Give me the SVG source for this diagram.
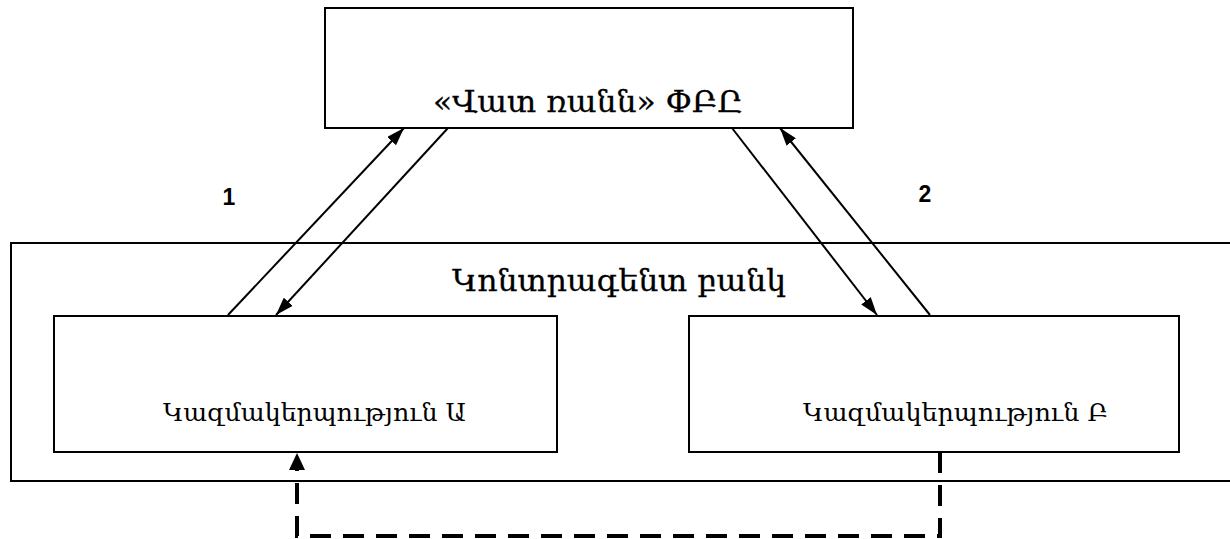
<svg xmlns="http://www.w3.org/2000/svg" width="1230" height="539" viewBox="0 0 1230 539">
<style>
.box{fill:#fff;stroke:#000;stroke-width:2}
.arm{font-family:"DejaVu Serif","Noto Sans",serif;fill:#000}
.big{font-size:30px;stroke:#000;stroke-width:0.3}
.small{font-size:24px}
.num{font-family:"Liberation Sans",Arial,sans-serif;font-weight:bold;font-size:23px;fill:#000}
.ln{stroke:#000;stroke-width:2;fill:none}
.dash{stroke:#000;stroke-width:4;fill:none;stroke-dasharray:21 12}
</style>
<defs>
<marker id="ah" viewBox="0 0 18 12" markerWidth="18" markerHeight="12" refX="18" refY="6" orient="auto" markerUnits="userSpaceOnUse">
<path d="M0,0 L18,6 L0,12 z" fill="#000"/>
</marker>
</defs>
<rect width="1230" height="539" fill="#fff"/>
<g id="bank">
<rect class="box" x="11" y="243" width="1230" height="238"/>
<text class="arm big" x="452" y="291" textLength="334" lengthAdjust="spacingAndGlyphs">Կոնտրագենտ բանկ</text>
</g>
<g id="top">
<rect class="box" x="325" y="8" width="528" height="120"/>
<text class="arm big" x="433" y="112" textLength="310" lengthAdjust="spacingAndGlyphs">«Վատ ռանն» ՓԲԸ</text>
</g>
<g id="orgA">
<rect class="box" x="54" y="316" width="503" height="136"/>
<text class="arm small" x="163" y="421" textLength="303" lengthAdjust="spacingAndGlyphs">Կազմակերպություն Ա</text>
</g>
<g id="orgB">
<rect class="box" x="689" y="316" width="490" height="136"/>
<text class="arm small" x="803" y="421" textLength="305" lengthAdjust="spacingAndGlyphs">Կազմակերպություն Բ</text>
</g>
<g id="labels">
<text class="num" x="229" y="205" text-anchor="middle">1</text>
<text class="num" x="925" y="202" text-anchor="middle">2</text>
</g>
<g id="connectors">
<line class="ln" x1="228" y1="315" x2="404" y2="128" marker-end="url(#ah)"/>
<line class="ln" x1="448" y1="128" x2="276" y2="315" marker-end="url(#ah)"/>
<line class="ln" x1="732" y1="128" x2="877" y2="315" marker-end="url(#ah)"/>
<line class="ln" x1="930" y1="315" x2="780" y2="128" marker-end="url(#ah)"/>
<path class="dash" d="M940,452 V536 H297 V470"/>
<polygon points="297,453 289,470 305,470" fill="#000"/>
</g>
</svg>
